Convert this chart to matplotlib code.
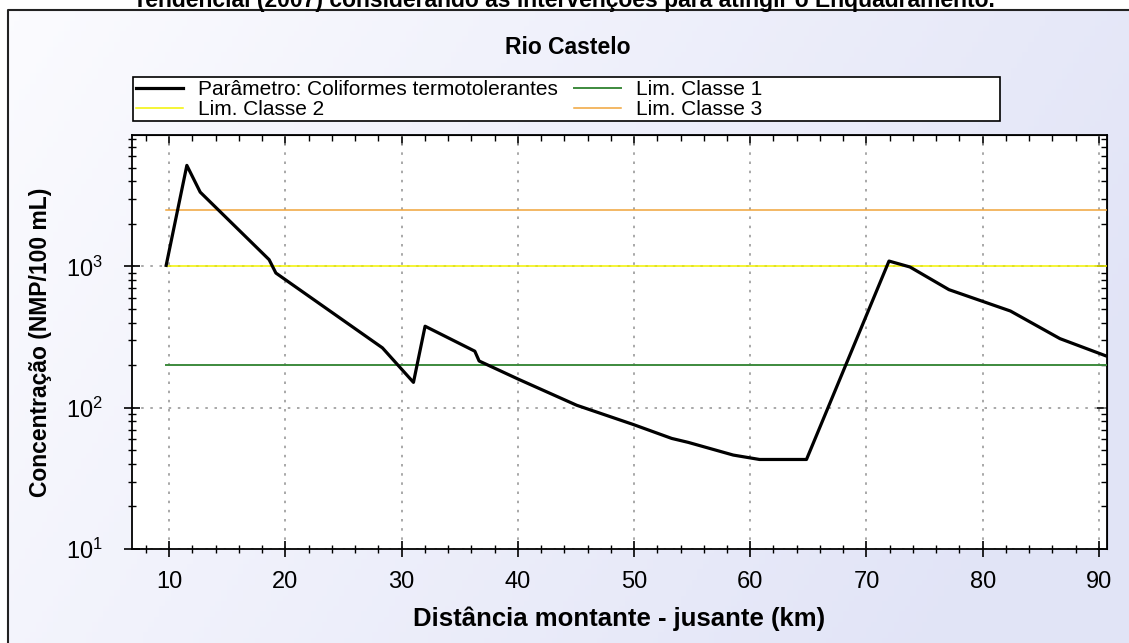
import numpy as np
import matplotlib
matplotlib.use("Agg")
import matplotlib.pyplot as plt
from matplotlib.patches import Rectangle
from matplotlib.ticker import FuncFormatter, LogLocator, MultipleLocator, NullFormatter

plt.rcParams['font.family'] = ['Liberation Sans', 'DejaVu Sans']
plt.rcParams['mathtext.fontset'] = 'custom'
plt.rcParams['mathtext.rm'] = 'Liberation Sans'

# distance upstream -> downstream (km) and fecal coliform concentration (NMP/100 mL)
dist_km = [9.74, 11.52, 12.67, 18.6, 19.18, 28.35, 31.02, 32.02, 36.3, 36.67,
           40.05, 45.07, 49.94, 53.24, 54.67, 58.54, 60.8, 64.84, 71.94, 73.74,
           77.1, 82.39, 86.65, 90.7]
conc = [1016, 5180, 3350, 1115, 897, 265, 151, 377, 251, 214,
        159, 104, 76, 60.6, 56.8, 46.2, 43, 43, 1090, 990,
        684, 483, 308, 231]

# class limits
lim_labels = ["Lim. Classe 1", "Lim. Classe 2", "Lim. Classe 3"]
lim_values = [200, 1000, 2500]
lim_colors = ["#3d8a3d", "#f2f200", "#f0a43a"]

W, H = 1129, 643
fig = plt.figure(figsize=(W / 100, H / 100), dpi=100)

# background: white outside, gradient panel with black frame inside
bg = fig.add_axes([0, 0, 1, 1], zorder=-10)
bg.set_xlim(0, W)
bg.set_ylim(H, 0)
bg.axis("off")
gx = np.linspace(0, 1, 200)
gy = np.linspace(0, 1, 120)
GX, GY = np.meshgrid(gx, gy)
t = np.clip(0.85 * GX + 0.3 * GY, 0, 1)
c0 = np.array([0.985, 0.985, 0.998])
c1 = np.array([0.885, 0.895, 0.968])
img = c0[None, None, :] * (1 - t[..., None]) + c1[None, None, :] * t[..., None]
bg.imshow(img, extent=(8, W, H, 10), aspect="auto")
bg.plot([8, 8, W], [H, 10, 10], color="#222222", lw=1.5)
# legend frame
bg.add_patch(Rectangle((133, 77), 1000 - 133, 121 - 77, facecolor="white",
                       edgecolor="black", lw=1.2))

fig.text(564 / W, 1 - 7 / H,
         "Tendencial (2007) considerando as intervenções para atingir o Enquadramento.",
         ha="center", va="baseline", fontsize=16.5, fontweight="bold")
fig.text(568 / W, 1 - 47 / H, "Rio Castelo", ha="center", va="center",
         fontsize=16.5, fontweight="bold")

ax = fig.add_axes([132 / W, 1 - 549 / H, (1107 - 132) / W, (549 - 135) / H])
ax.set_facecolor("white")

h_par, = ax.plot(dist_km, conc, color="black", lw=2.3, zorder=5,
                 label="Parâmetro: Coliformes termotolerantes")
lim_handles = []
for lab, val, col in zip(lim_labels, lim_values, lim_colors):
    h, = ax.plot([dist_km[0], 92], [val, val], color=col,
                 lw=1.4 if col == lim_colors[0] else 1.1, zorder=3, label=lab)
    lim_handles.append(h)

ax.set_yscale("log")
ax.set_xlim(6.8, 90.7)
ax.set_ylim(10, 8500)

ax.xaxis.set_major_locator(MultipleLocator(10))
ax.xaxis.set_minor_locator(MultipleLocator(2))
ax.yaxis.set_major_locator(LogLocator(base=10))
ax.yaxis.set_minor_locator(LogLocator(base=10, subs=np.arange(2, 10)))
ax.yaxis.set_major_formatter(FuncFormatter(
    lambda v, p: r"$\mathregular{10^{%d}}$" % round(np.log10(v))))
ax.yaxis.set_minor_formatter(NullFormatter())

ax.tick_params(which="major", direction="inout", length=12, width=1.2, labelsize=17)
ax.tick_params(which="minor", direction="inout", length=6, width=1)
ax.tick_params(axis="x", which="major", pad=9.5)
ax.tick_params(axis="y", which="major", pad=15)
for s in ax.spines.values():
    s.set_linewidth(1.3)

# inward ticks on top and right sides
top = ax.secondary_xaxis("top")
top.xaxis.set_major_locator(MultipleLocator(10))
top.xaxis.set_minor_locator(MultipleLocator(2))
top.tick_params(which="major", direction="in", length=7, width=1.2, labeltop=False)
top.tick_params(which="minor", direction="in", length=4, width=1)
right = ax.secondary_yaxis("right")
right.yaxis.set_major_locator(LogLocator(base=10))
right.yaxis.set_minor_locator(LogLocator(base=10, subs=np.arange(2, 10)))
right.tick_params(which="major", direction="in", length=7, width=1.2, labelright=False)
right.tick_params(which="minor", direction="in", length=4, width=1, labelright=False)
right.yaxis.set_minor_formatter(NullFormatter())

ax.grid(True, which="major", color="#999999", linestyle=(0, (1.5, 4)), lw=1.2)

ax.set_xlabel("Distância montante - jusante (km)", fontsize=18.5, fontweight="bold",
              labelpad=10)
ax.set_ylabel("Concentração (NMP/100 mL)", fontsize=16.5, fontweight="bold",
              labelpad=10)

# legend: column-major order gives rows (param, classe 1) / (classe 2, classe 3)
leg = fig.legend([h_par, lim_handles[1], lim_handles[0], lim_handles[2]],
                 [h_par.get_label(), lim_labels[1], lim_labels[0], lim_labels[2]],
                 ncol=2, loc="upper left",
                 bbox_to_anchor=(133 / W, 1 - 77 / H),
                 borderaxespad=0, fontsize=15, handlelength=2.25, handletextpad=0.7,
                 labelspacing=0.05, borderpad=0.15, frameon=False, columnspacing=0.8)

fig.savefig("out.png", dpi=100)
